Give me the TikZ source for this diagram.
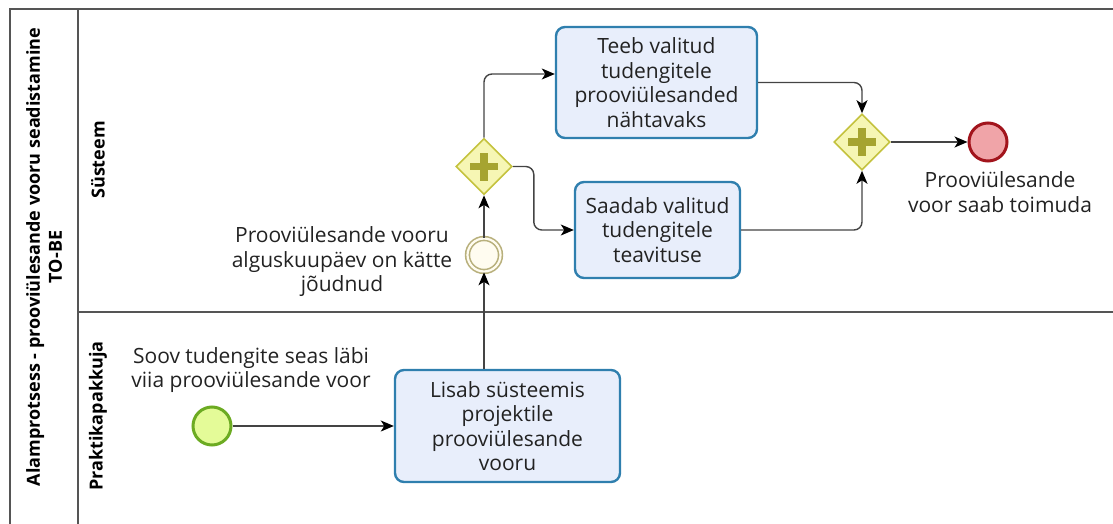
\documentclass[tikz,border=0pt]{standalone}
\usepackage{fontspec}
\setmainfont{Open Sans}
\usetikzlibrary{arrows.meta,shapes.geometric}

\definecolor{txt}{HTML}{222222}
\definecolor{poolline}{HTML}{555555}
\definecolor{taskfill}{HTML}{E8EEFB}
\definecolor{taskline}{HTML}{2F7FAE}
\definecolor{gwfill}{HTML}{F6F6B4}
\definecolor{gwline}{HTML}{C4C23E}
\definecolor{gwplus}{HTML}{A6A430}
\definecolor{ievfill}{HTML}{FFFCF0}
\definecolor{ievline}{HTML}{B8B07C}
\definecolor{sevfill}{HTML}{E4FB98}
\definecolor{sevline}{HTML}{6CAB22}
\definecolor{eevfill}{HTML}{F0A4A8}
\definecolor{eevline}{HTML}{A2141C}
\definecolor{flowline}{HTML}{444444}

\begin{document}
\begin{tikzpicture}[x=1pt,y=-1pt,
  lbl/.style={font=\fontsize{21}{24.5}\selectfont, text=txt, align=center, inner sep=0pt},
  lanelbl/.style={font=\fontsize{18}{22}\selectfont\bfseries, text=black, align=center, rotate=90, inner sep=0pt},
  task/.style={lbl, draw=taskline, fill=taskfill, line width=2.4pt, rounded corners=9pt},
  gw/.style={diamond, draw=gwline, fill=gwfill, line width=1.6pt,
    minimum width=56pt, minimum height=56pt, inner sep=0pt,
    path picture={
      \draw[gwplus, line width=7.5pt]
        ([xshift=-14pt]path picture bounding box.center) -- ([xshift=14pt]path picture bounding box.center)
        ([yshift=-14pt]path picture bounding box.center) -- ([yshift=14pt]path picture bounding box.center);
    }},
  startev/.style={circle, draw=sevline, fill=sevfill, line width=3pt, minimum size=38pt, inner sep=0pt},
  endev/.style={circle, draw=eevline, fill=eevfill, line width=3pt, minimum size=38pt, inner sep=0pt},
  interev/.style={circle, draw=ievline, double=ievfill, double distance=2.2pt, fill=ievfill,
    line width=1.6pt, minimum size=33pt, inner sep=0pt},
  flow/.style={draw=flowline, line width=1.4pt, rounded corners=8pt,
    -{Stealth[length=13pt,width=11pt,inset=3.5pt,color=black]}},
  pool/.style={draw=poolline, line width=1.5pt}
]
\useasboundingbox (0,0) rectangle (1113,524);

% pool and lanes
\draw[pool] (1113,9) -- (10,9) -- (10,524);
\draw[pool] (78,9) -- (78,524);
\draw[pool] (78,312) -- (1113,312);

\node[lanelbl] (poolname) at (44,257) {Alamprotsess - prooviülesande vooru seadistamine\\TO-BE};
\node[lanelbl] (lane1) at (98,160) {Süsteem};
\node[lanelbl] (lane2) at (98,416) {Praktikapakkuja};

% flow elements
\node[startev] (s) at (212,426) {};
\node[task, minimum width=225pt, minimum height=112pt] (t1) at (507.5,426)
  {Lisab süsteemis\\projektile\\prooviülesande\\vooru};
\node[interev] (ie) at (484,255) {};
\node[gw] (g1) at (484,166.5) {};
\node[task, minimum width=201pt, minimum height=111pt] (t2) at (656.5,82.5)
  {Teeb valitud\\tudengitele\\prooviülesanded\\nähtavaks};
\node[task, minimum width=165pt, minimum height=96pt] (t3) at (657.5,230)
  {Saadab valitud\\tudengitele\\teavituse};
\node[gw] (g2) at (862,142) {};
\node[endev] (e) at (988,142) {};

% labels
\node[lbl] (sl) at (251,370) {Soov tudengite seas läbi\\viia prooviülesande voor};
\node[lbl] (il) at (342,262) {Prooviülesande vooru\\alguskuupäev on kätte\\jõudnud};
\node[lbl] (el) at (1000,192) {Prooviülesande\\voor saab toimuda};

% sequence flows
\draw[flow] (s) -- (t1);
\draw[flow] (t1.north -| ie) -- (ie);
\draw[flow] (ie) -- (g1);
\draw[flow] (g1.north) |- ([yshift=8.5pt]t2.west);
\draw[flow] (g1.east) -- ++(21,0) |- (t3.west);
\draw[flow] (t2.east) -| (g2.north);
\draw[flow] (t3.east) -| (g2.south);
\draw[flow] (g2) -- (e);
\end{tikzpicture}
\end{document}
